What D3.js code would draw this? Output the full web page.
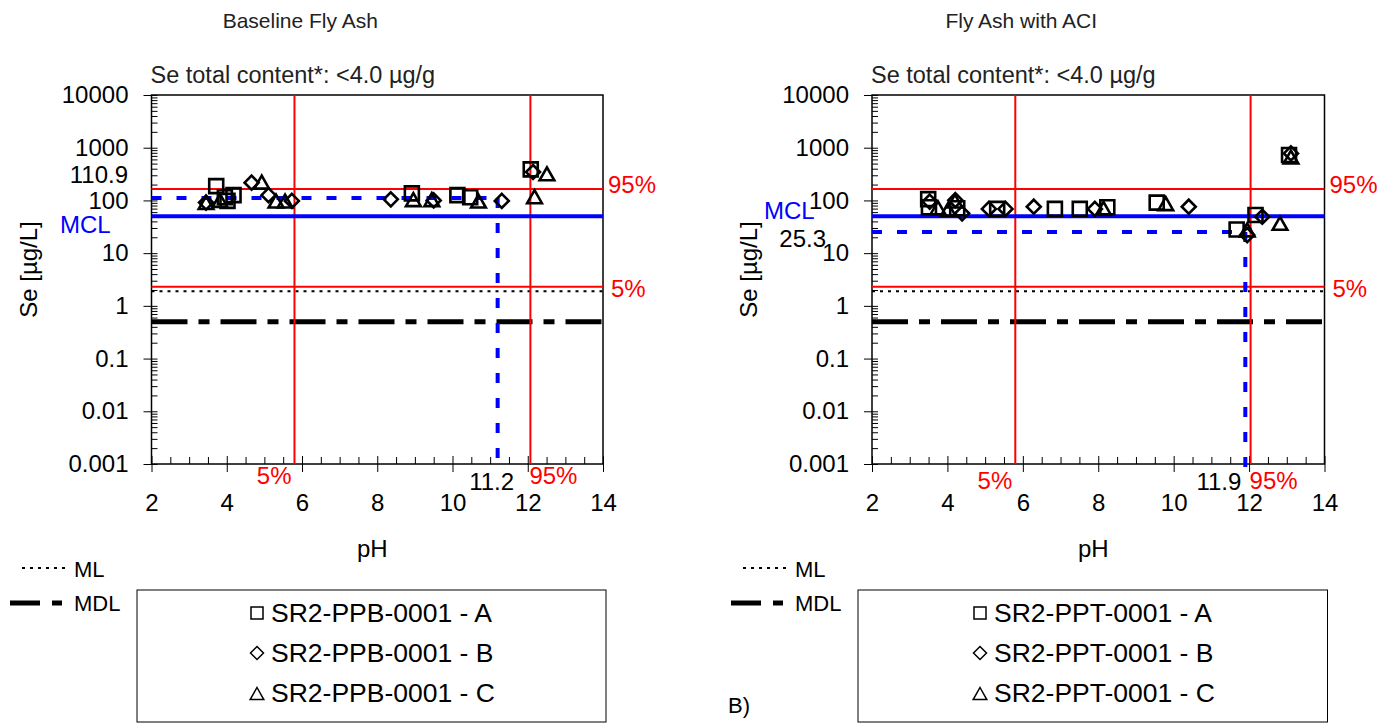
<!DOCTYPE html>
<html><head><meta charset="utf-8">
<script src="https://cdn.jsdelivr.net/npm/d3@7"></script>
<style>body{margin:0;background:#fff} text{font-family:"Liberation Sans",Arial,Helvetica,sans-serif}</style>
</head><body><svg id="c" width="1397" height="725"></svg>
<script>
// ---------- data ----------
const phTicks = [2, 4, 6, 8, 10, 12, 14];
const seTicks = [0.001, 0.01, 0.1, 1, 10, 100, 1000, 10000];
const seTickLabels = ["0.001", "0.01", "0.1", "1", "10", "100", "1000", "10000"];
const panelTitles = ["Baseline Fly Ash", "Fly Ash with ACI"];
const subtitleText = "Se total content*: <4.0 µg/g";
const baselineNames = ["SR2-PPB-0001 - A", "SR2-PPB-0001 - B", "SR2-PPB-0001 - C"];
const aciNames = ["SR2-PPT-0001 - A", "SR2-PPT-0001 - B", "SR2-PPT-0001 - C"];

// [pH, Se µg/L]
const baselineA = [[3.72,187],[3.95,115],[4.18,126],[4.02,98],[8.92,136],[10.13,126],[10.47,115],[12.08,389]];
const baselineB = [[3.45,91],[4.66,217],[5.11,126],[5.73,98],[8.36,105],[9.50,100],[11.31,98],[12.14,346]];
const baselineC = [[3.45,89],[3.82,98],[4.93,217],[5.31,95],[5.55,95],[8.96,101],[9.45,101],[10.69,95],[12.18,115],[12.51,313]];

const aciA = [[3.49,106],[3.51,74],[4.26,71],[5.32,69],[6.85,69],[7.51,69],[8.24,74],[9.55,91],[11.67,28],[12.17,53],[13.06,727]];
const aciB = [[3.53,95],[4.21,101],[4.39,57],[5.10,69],[5.54,69],[6.29,76],[7.91,69],[10.40,76],[11.95,22],[12.35,49],[13.11,779]];
const aciC = [[3.75,71],[4.02,66],[4.20,95],[8.14,69],[9.79,85],[11.95,27],[12.82,36],[13.11,650]];

// percentile lines: [5%, 95%]
const baselinePctPH = [5.80, 12.07];
const baselinePctSe = [2.3, 164];
const aciPctPH = [5.80, 12.04];
const aciPctSe = [2.3, 164];
// reference levels
const mclValue = 50, mlValue = 1.9, mdlValue = 0.5;
// median markers [pH, Se]
const baselineMedian = [11.2, 110.9];
const aciMedian = [11.9, 25.3];

// ---------- drawing ----------
const svg = d3.select("#c");
svg.append("rect").attr("width",1397).attr("height",725).attr("fill","#fff");

const RED = "#ff0000", BLUE = "#0000ff";

const shapes = {
  square: { draw(ctx, s){ const h=s/2; ctx.moveTo(-h,-h); ctx.lineTo(h,-h); ctx.lineTo(h,h); ctx.lineTo(-h,h); ctx.closePath(); } },
  diamond: { draw(ctx, s){ const h=s/2; ctx.moveTo(0,-h); ctx.lineTo(h,0); ctx.lineTo(0,h); ctx.lineTo(-h,0); ctx.closePath(); } },
  triangle: { draw(ctx, s){ const h=s/2; ctx.moveTo(0,-h); ctx.lineTo(h*1.05,h*0.85); ctx.lineTo(-h*1.05,h*0.85); ctx.closePath(); } }
};
const shapeKeys = ["square","diamond","triangle"];

function drawPanel(o){
  const g = svg.append("g");
  const x = d3.scaleLinear().domain([2,14]).range([o.L, o.R]);
  const y = d3.scaleLog().domain([0.001,10000]).range([464,95]);
  const T = y.range()[1], B = y.range()[0];

  // title & subtitle
  g.append("text").attr("x", (o.L+o.R)/2 - 77).attr("y", 28).attr("text-anchor","middle")
    .attr("font-size",21).attr("fill","#222").text(o.title);
  g.append("text").attr("x", o.L-1).attr("y", 83).attr("font-size",23.5).attr("fill","#222").text(subtitleText);

  // minor ticks
  const minorY = [];
  for (let e=-3; e<4; e++) for (let k=2; k<10; k++) minorY.push(k*Math.pow(10,e));
  g.append("g").attr("transform",`translate(${o.L},0)`)
    .call(d3.axisRight(y).tickValues(minorY).tickSize(6).tickFormat(""))
    .call(s=>s.select(".domain").remove())
    .selectAll("line").attr("stroke","#000");
  const minorX = d3.range(2.5,14,0.5).filter(v=>v%2!==0);
  g.append("g").attr("transform",`translate(0,${B})`)
    .call(d3.axisTop(x).tickValues(minorX).tickSize(7).tickFormat(""))
    .call(s=>s.select(".domain").remove())
    .selectAll("line").attr("stroke","#000");

  // major axes
  const ya = g.append("g").attr("transform",`translate(${o.L},0)`)
    .call(d3.axisLeft(y).tickValues(seTicks).tickFormat((d,i)=>seTickLabels[i]).tickSize(8).tickPadding(15).tickSizeOuter(0));
  ya.selectAll("line").attr("x1",6).attr("stroke","#000");
  ya.selectAll("text").attr("font-size",24).attr("fill","#000").attr("font-family","Liberation Sans, Arial, sans-serif");
  ya.select(".domain").remove();
  const xa = g.append("g").attr("transform",`translate(0,${B})`)
    .call(d3.axisBottom(x).tickValues(phTicks).tickSize(8).tickPadding(22).tickSizeOuter(0));
  xa.selectAll("line").attr("y1",-8).attr("stroke","#000");
  xa.selectAll("text").attr("font-size",24).attr("fill","#000").attr("font-family","Liberation Sans, Arial, sans-serif");
  xa.select(".domain").remove();

  // frame
  g.append("rect").attr("x",o.L).attr("y",T).attr("width",o.R-o.L).attr("height",B-T)
    .attr("fill","none").attr("stroke","#000").attr("stroke-width",1.5);

  // ML & MDL
  g.append("line").attr("x1",o.L).attr("x2",o.R).attr("y1",y(mlValue)).attr("y2",y(mlValue))
    .attr("stroke","#000").attr("stroke-width",2).attr("stroke-dasharray","3,5");
  g.append("line").attr("x1",o.L).attr("x2",o.R).attr("y1",y(mdlValue)).attr("y2",y(mdlValue))
    .attr("stroke","#000").attr("stroke-width",5).attr("stroke-dasharray","36,11,11,11");

  // percentile lines
  o.pctPH.forEach(v=> g.append("line").attr("x1",x(v)).attr("x2",x(v)).attr("y1",T).attr("y2",B).attr("stroke",RED).attr("stroke-width",2));
  o.pctSe.forEach(v=> g.append("line").attr("x1",o.L).attr("x2",o.R).attr("y1",y(v)).attr("y2",y(v)).attr("stroke",RED).attr("stroke-width",2));

  // MCL
  g.append("line").attr("x1",o.L).attr("x2",o.R).attr("y1",y(mclValue)).attr("y2",y(mclValue))
    .attr("stroke",BLUE).attr("stroke-width",4);

  // median dashed
  const mx = x(o.median[0]), my = y(o.median[1]);
  g.append("line").attr("x1",o.L).attr("x2",mx).attr("y1",my).attr("y2",my)
    .attr("stroke",BLUE).attr("stroke-width",4).attr("stroke-dasharray","10,15");
  g.append("line").attr("x1",mx).attr("x2",mx).attr("y1",my).attr("y2",B+7)
    .attr("stroke",BLUE).attr("stroke-width",4).attr("stroke-dasharray","10,15");

  // data points
  o.series.forEach((data,i)=>{
    const sym = d3.symbol().type(shapes[shapeKeys[i]]).size(14);
    g.append("g").selectAll("path").data(data).join("path")
      .attr("transform",d=>`translate(${x(d[0])},${y(d[1])})`)
      .attr("d",sym).attr("fill","none").attr("stroke","#000").attr("stroke-width",2.6);
  });

  // annotations
  const fs = 24;
  g.append("text").attr("x",o.R+5).attr("y",y(o.pctSe[1])+4).attr("font-size",fs).attr("fill",RED).text("95%");
  g.append("text").attr("x",o.R+8).attr("y",y(o.pctSe[0])+10).attr("font-size",fs).attr("fill",RED).text("5%");
  g.append("text").attr("x",x(o.pctPH[0])-3).attr("y",B+o.pctDy).attr("text-anchor","end").attr("font-size",fs).attr("fill",RED).text("5%");
  g.append("text").attr("x",x(o.pctPH[1])-1).attr("y",B+o.pctDy).attr("font-size",fs).attr("fill",RED).text("95%");
  g.append("text").attr("x",mx+o.medDx).attr("y",B+26).attr("text-anchor",o.medAnchor).attr("font-size",fs).attr("fill","#000").text(o.median[0].toFixed(1));
  g.append("text").attr("x",o.medValX).attr("y",my+o.medValDy).attr("text-anchor","end").attr("font-size",fs).attr("fill","#000").text(o.median[1].toFixed(1));
  g.append("text").attr("x",o.mclX).attr("y",y(mclValue)+o.mclDy).attr("font-size",fs).attr("fill",BLUE).text("MCL");

  // y title
  g.append("text").attr("transform",`translate(${o.L-115},${(T+B)/2-10}) rotate(-90)`)
    .attr("text-anchor","middle").attr("font-size",24).attr("fill","#000").text("Se [µg/L]");
  // x title
  g.append("text").attr("x",(o.L+o.R)/2-5).attr("y",557).attr("text-anchor","middle").attr("font-size",24).attr("fill","#000").text("pH");

  // ML / MDL key
  g.append("line").attr("x1",o.keyX).attr("x2",o.keyX+48).attr("y1",568).attr("y2",568)
    .attr("stroke","#000").attr("stroke-width",2).attr("stroke-dasharray","3,5");
  g.append("text").attr("x",o.keyX+52).attr("y",577).attr("font-size",22).attr("fill","#000").text("ML");
  g.append("line").attr("x1",o.keyX-12).attr("x2",o.keyX+40).attr("y1",603).attr("y2",603)
    .attr("stroke","#000").attr("stroke-width",5).attr("stroke-dasharray","30,12,10,100");
  g.append("text").attr("x",o.keyX+52).attr("y",611).attr("font-size",22).attr("fill","#000").text("MDL");

  // legend box
  g.append("rect").attr("x",o.boxL).attr("y",590).attr("width",o.R+3-o.boxL).attr("height",132)
    .attr("fill","#fff").attr("stroke","#000").attr("stroke-width",1);
  o.names.forEach((n,i)=>{
    const cy = 613 + i*40;
    const sym = d3.symbol().type(shapes[shapeKeys[i]]).size(i===0?12:13);
    g.append("path").attr("transform",`translate(${o.boxMarkX},${cy+ (i===2?1:0)})`).attr("d",sym)
      .attr("fill","none").attr("stroke","#000").attr("stroke-width",1.5);
    g.append("text").attr("x",o.boxMarkX+14).attr("y",cy+9).attr("font-size",26.5).attr("fill","#000").text(n);
  });
}

drawPanel({L:151.5, R:603, title:panelTitles[0], series:[baselineA,baselineB,baselineC],
  pctPH:baselinePctPH, pctSe:baselinePctSe, median:baselineMedian,
  medDx:-6, medAnchor:"middle", medValX:128, medValDy:-15, mclX:60, mclDy:17, pctDy:20,
  keyX:22, boxL:137, boxMarkX:257, names:baselineNames});
drawPanel({L:872, R:1324.5, title:panelTitles[1], series:[aciA,aciB,aciC],
  pctPH:aciPctPH, pctSe:aciPctSe, median:aciMedian,
  medDx:-4, medAnchor:"end", medValX:826, medValDy:15, mclX:764, mclDy:3, pctDy:25,
  keyX:743, boxL:858, boxMarkX:980, names:aciNames});

svg.append("text").attr("x",728).attr("y",713).attr("font-size",22).attr("fill","#000").text("B)");
</script></body></html>
